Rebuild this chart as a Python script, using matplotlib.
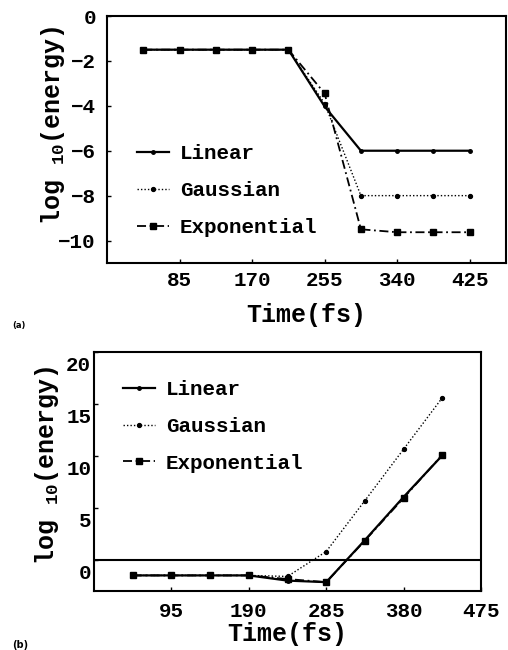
"""Energy decay / growth for three profiles, panels (a) and (b)."""

import matplotlib
matplotlib.use("Agg")
import matplotlib.pyplot as plt
import matplotlib.transforms as mtransforms

plt.rcParams["font.family"] = ["Liberation Mono", "DejaVu Sans Mono"]
plt.rcParams["font.weight"] = "bold"
plt.rcParams["mathtext.default"] = "regular"

# panel (a): time (fs) and log10(energy)
t_a = [42.5, 85, 127.5, 170, 212.5, 255, 297.5, 340, 382.5, 425]
lin_a = [-1.5, -1.5, -1.5, -1.5, -1.5, -4.03, -6.0, -6.0, -6.0, -6.0]
gau_a = [-1.5, -1.5, -1.5, -1.5, -1.5, -3.9, -8.0, -8.0, -8.0, -8.0]
exp_a = [-1.5, -1.5, -1.5, -1.5, -1.5, -3.45, -9.5, -9.63, -9.63, -9.63]
xticks_a = [85, 170, 255, 340, 425]
yticks_a = [0, -2, -4, -6, -8, -10]

# panel (b)
t_b = [47.5, 95, 142.5, 190, 237.5, 285, 332.5, 380, 427.5]
lin_b = [-1.5, -1.5, -1.5, -1.5, -2.0, -2.15, 1.9, 6.05, 10.05]
gau_b = [-1.5, -1.5, -1.5, -1.5, -1.6, 0.8, 5.7, 10.65, 15.6]
exp_b = [-1.5, -1.5, -1.5, -1.5, -1.85, -2.15, 1.85, 5.95, 10.1]
xticks_b = [95, 190, 285, 380, 475]
yticks_b = [0, 5, 10, 15, 20]

labels = ["Linear", "Gaussian", "Exponential"]

fig = plt.figure(figsize=(5.08, 6.5), dpi=100)
ax_a = fig.add_axes([107 / 508, 1 - 263 / 650, 399 / 508, 247 / 650])
ax_b = fig.add_axes([94 / 508, 1 - 591 / 650, 387 / 508, 239 / 650])


def draw_series(ax, t, lin, gau, exp):
    ax.plot(t, lin, color="black", lw=1.6, ls="-", marker="o", ms=2.5, label=labels[0])
    ax.plot(t, gau, color="black", lw=1.0, ls=(0, (1, 1.5)), marker="o", ms=2.8, label=labels[1])
    ax.plot(t, exp, color="black", lw=1.3, ls=(0, (5, 2, 1, 2)), marker="s", ms=4.0, label=labels[2])


def style(ax, ypad, xpad):
    for s in ax.spines.values():
        s.set_linewidth(1.5)
    ax.tick_params(direction="in", length=3, width=1, labelsize=15, top=False, right=False)
    ax.tick_params(axis="y", pad=ypad)
    ax.tick_params(axis="x", pad=xpad)
    ax.set_xlabel("Time(fs)", fontsize=18, fontweight="bold")
    ax.set_ylabel(r"log $_{\mathregular{10}}$(energy)", fontsize=18, fontweight="bold")


def add_legend(ax, y_top):
    ax.legend(loc="upper left", bbox_to_anchor=(0.075, y_top), frameon=False, fontsize=15,
              handlelength=1.55, handletextpad=0.5, labelspacing=0.85, borderpad=0,
              borderaxespad=0, numpoints=1)


# (a)
draw_series(ax_a, t_a, lin_a, gau_a, exp_a)
ax_a.set_xlim(0, 467.5)
ax_a.set_ylim(-11, 0)
ax_a.set_xticks(xticks_a)
ax_a.set_yticks(yticks_a)
ax_a.set_yticklabels([str(v).replace("-", "−") if v else "0" for v in yticks_a])
style(ax_a, ypad=8, xpad=6)
ax_a.yaxis.set_label_coords(-0.10, 0.56)
ax_a.xaxis.set_label_coords(0.5, -0.16)
add_legend(ax_a, 0.48)

# (b)
draw_series(ax_b, t_b, lin_b, gau_b, exp_b)
ax_b.axhline(0, color="black", lw=1.5)
ax_b.set_xlim(0, 475)
ax_b.set_ylim(-3, 20)
ax_b.set_xticks(xticks_b)
ax_b.set_yticks(yticks_b)
style(ax_b, ypad=2, xpad=8)
ax_b.yaxis.set_label_coords(-0.084, 0.525)
ax_b.xaxis.set_label_coords(0.5, -0.128)
# tick labels on this panel sit a little below their ticks
shift = mtransforms.ScaledTranslation(0, -12 / 100, fig.dpi_scale_trans)
for lab in ax_b.get_yticklabels():
    lab.set_transform(lab.get_transform() + shift)
add_legend(ax_b, 0.882)

fig.text(12 / 508, 1 - 326 / 650, "(a)", fontsize=6, family="DejaVu Sans", fontweight="bold",
         ha="left", va="center")
fig.text(12 / 508, 1 - 645 / 650, "(b)", fontsize=7, family="DejaVu Sans", fontweight="bold",
         ha="left", va="center")

fig.savefig("out.png", dpi=100)
